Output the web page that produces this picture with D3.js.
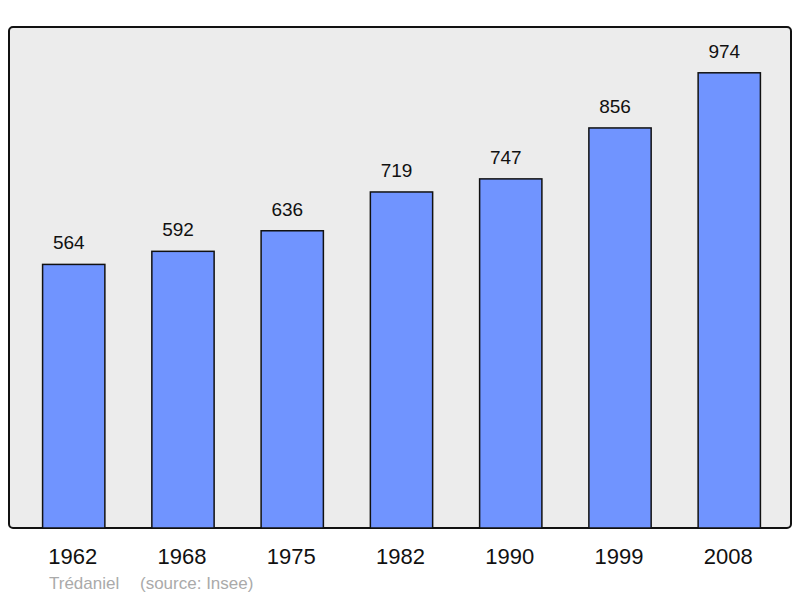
<!DOCTYPE html>
<html>
<head>
<meta charset="utf-8">
<script src="https://cdn.jsdelivr.net/npm/d3@7"></script>
<style>
  body { margin: 0; background: #fff; }
  text { font-family: "Liberation Sans", Arial, sans-serif; }
</style>
</head>
<body>
<div id="chart"></div>
<script>
//chart data
const years = ["1962", "1968", "1975", "1982", "1990", "1999", "2008"];
const population = [564, 592, 636, 719, 747, 856, 974];
const credit = "Trédaniel";
const source = "(source: Insee)";

const width = 800;
const height = 598;
const plot = { left: 9, right: 791, top: 27, bottom: 528 };

const svg = d3
  .select("#chart")
  .append("svg")
  .attr("width", width)
  .attr("height", height);

//plot background
svg
  .append("rect")
  .attr("x", plot.left)
  .attr("y", plot.top)
  .attr("width", plot.right - plot.left)
  .attr("height", plot.bottom - plot.top)
  .attr("rx", 4)
  .attr("fill", "#ececec")
  .attr("stroke", "#111")
  .attr("stroke-width", 2);

const x = d3
  .scaleBand()
  .domain(years)
  .range([12, plot.right])
  .paddingInner(0.43)
  .paddingOuter(0.28);
const y = d3.scaleLinear().domain([0, 1072]).range([plot.bottom, plot.top]);

const data = years.map((year, i) => ({ year: year, value: population[i] }));

//bars
svg
  .selectAll(".bar")
  .data(data)
  .enter()
  .append("rect")
  .attr("class", "bar")
  .attr("x", (d) => x(d.year))
  .attr("y", (d) => y(d.value))
  .attr("width", x.bandwidth())
  .attr("height", (d) => y(0) - y(d.value))
  .attr("fill", "#7094ff")
  .attr("stroke", "#111")
  .attr("stroke-width", 1.5);

//value labels (sit a little left of the bar centre, as in the original)
svg
  .selectAll(".label")
  .data(data)
  .enter()
  .append("text")
  .attr("class", "label")
  .attr("x", (d) => x(d.year) + x.bandwidth() / 2 - 5)
  .attr("y", (d) => y(d.value) - 15)
  .attr("text-anchor", "middle")
  .attr("font-size", 19)
  .attr("fill", "#111")
  .text((d) => d.value);

//x axis
const xAxis = svg
  .append("g")
  .attr("transform", `translate(-1, ${plot.bottom})`)
  .call(d3.axisBottom(x).tickSize(0).tickPadding(20));
xAxis.select(".domain").remove();
xAxis
  .selectAll("text")
  .attr("font-family", "Liberation Sans, Arial, sans-serif")
  .attr("font-size", 22)
  .attr("fill", "#111");

//credits
svg
  .append("text")
  .attr("x", 49)
  .attr("y", 589)
  .attr("font-size", 17)
  .attr("fill", "#aaa")
  .text(credit);
svg
  .append("text")
  .attr("x", 140)
  .attr("y", 589)
  .attr("font-size", 17)
  .attr("fill", "#aaa")
  .text(source);
</script>
</body>
</html>
